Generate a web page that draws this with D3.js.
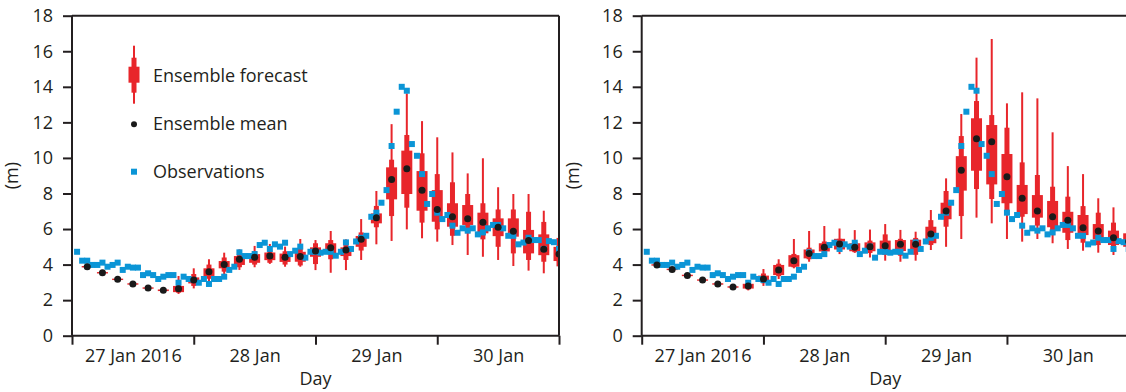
<!DOCTYPE html>
<html>
<head>
<meta charset="utf-8">
<script src="https://cdn.jsdelivr.net/npm/d3@7"></script>
<style>
  body { margin: 0; background: #fff; }
  svg text { font-family: "Open Sans", sans-serif; fill: #231f20; }
</style>
</head>
<body>
<svg id="chart" width="1126" height="392"></svg>
<script>
// time grid: hours after 27 Jan 2016 00:00 UTC
const startTime = Date.UTC(2016, 0, 27);
const endTime = Date.UTC(2016, 0, 31);
const dayLabels = ['27 Jan 2016', '28 Jan', '29 Jan', '30 Jan'];
const yTicks = [0, 2, 4, 6, 8, 10, 12, 14, 16, 18];

// observed wave height, hourly from hour 1
const obsHeight = [
  4.72, 4.22, 4.22, 3.98, 3.98, 4.11, 3.88, 3.98, 4.11, 3.70, 3.88, 3.83,
  3.83, 3.41, 3.51, 3.41, 3.19, 3.32, 3.41, 3.41, 2.98, 3.32, 3.19, 3.13,
  2.98, 3.19, 2.91, 3.19, 3.19, 3.32, 3.70, 3.88, 4.69, 4.48, 4.48, 4.59,
  5.10, 5.23, 4.88, 5.14, 5.01, 5.23, 4.59, 4.78, 5.01, 4.39, 4.72, 4.72,
  4.67, 4.72, 4.72, 4.50, 4.72, 5.25, 4.88, 5.30, 5.51, 5.62, 6.69, 6.92,
  7.48, 8.19, 10.67, 12.60, 14.00, 13.78, 10.78, 10.12, 9.09, 7.41, 7.97, 6.92,
  6.56, 6.79, 6.19, 5.79, 6.04, 5.91, 6.04, 5.70, 5.81, 6.04, 6.23, 6.23,
  6.04, 5.62, 5.62, 5.14, 5.24, 5.51, 5.38, 5.38, 4.88, 5.32, 5.26, 4.88
];

// ensemble forecasts, every 3 hours from hour 3
// left panel
const leftMean = [3.88, 3.54, 3.17, 2.91, 2.68, 2.55, 2.64, 3.13, 3.60, 4.01, 4.30, 4.41, 4.48, 4.41, 4.45, 4.76,
                  4.95, 4.82, 5.42, 6.64, 8.79, 9.39, 8.18, 7.10, 6.69, 6.58, 6.38, 6.10, 5.87, 5.35, 4.86, 4.59];
const leftMin  = [3.80, 3.47, 3.10, 2.84, 2.60, 2.47, 2.35, 2.66, 2.98, 3.47, 3.70, 3.85, 4.04, 3.88, 3.88, 3.69,
                  3.54, 3.69, 4.26, 5.14, 5.33, 5.98, 5.48, 5.29, 5.10, 4.54, 4.44, 4.26, 3.92, 3.66, 3.51, 3.32];
const leftMax  = [3.95, 3.61, 3.24, 2.98, 2.76, 2.63, 3.36, 3.79, 4.30, 4.67, 4.86, 5.05, 5.16, 5.01, 5.44, 5.38,
                  5.89, 5.42, 6.56, 8.14, 11.90, 13.63, 12.07, 11.16, 10.31, 9.13, 9.98, 8.35, 7.97, 7.97, 7.03, 6.40];
const leftP10  = [3.82, 3.49, 3.12, 2.86, 2.62, 2.49, 2.42, 2.80, 3.20, 3.60, 3.85, 4.00, 4.10, 4.00, 3.95, 4.03,
                  4.30, 4.26, 4.79, 6.10, 6.73, 7.20, 6.36, 5.98, 5.62, 5.76, 5.42, 5.00, 4.63, 4.26, 4.16, 3.90];
const leftP90  = [3.94, 3.59, 3.22, 2.96, 2.74, 2.61, 2.85, 3.47, 4.00, 4.40, 4.60, 4.75, 4.80, 4.75, 4.90, 5.20,
                  5.38, 5.20, 5.81, 7.30, 9.90, 11.29, 10.26, 9.09, 8.63, 7.97, 7.45, 7.10, 7.10, 6.97, 6.40, 5.50];
const leftP25  = [3.84, 3.50, 3.13, 2.87, 2.64, 2.51, 2.45, 2.94, 3.36, 3.79, 3.98, 4.10, 4.25, 4.15, 4.16, 4.44,
                  4.63, 4.48, 5.00, 6.32, 7.67, 7.97, 7.03, 6.41, 6.13, 6.23, 5.76, 5.60, 5.57, 4.63, 4.53, 4.20];
const leftP75  = [3.92, 3.58, 3.21, 2.95, 2.72, 2.60, 2.80, 3.28, 3.79, 4.20, 4.48, 4.59, 4.68, 4.62, 4.72, 4.97,
                  5.20, 4.97, 5.61, 6.88, 9.47, 10.41, 9.26, 8.19, 7.45, 7.35, 6.92, 6.60, 6.60, 5.95, 5.70, 5.00];

// right panel
const rightMean = [3.98, 3.73, 3.39, 3.13, 2.91, 2.74, 2.80, 3.19, 3.70, 4.22, 4.63, 4.97, 5.16, 4.97, 5.00, 5.06,
                   5.14, 5.14, 5.72, 7.01, 9.30, 11.08, 10.91, 8.94, 7.73, 7.01, 6.69, 6.49, 6.07, 5.89, 5.51, 5.30];
const rightMin  = [3.90, 3.66, 3.32, 3.06, 2.84, 2.66, 2.55, 2.80, 3.19, 3.79, 4.16, 4.63, 4.59, 4.66, 4.40, 4.22,
                   4.16, 4.22, 4.82, 5.00, 5.44, 6.64, 6.32, 5.44, 5.29, 5.44, 5.20, 4.88, 4.78, 4.67, 4.54, 4.60];
const rightMax  = [4.05, 3.80, 3.46, 3.20, 2.98, 2.82, 3.00, 3.75, 4.30, 5.44, 5.89, 6.17, 6.03, 5.94, 5.97, 6.28,
                   5.95, 5.85, 7.07, 8.85, 12.47, 15.64, 16.69, 13.07, 13.69, 13.35, 11.44, 9.54, 9.09, 7.73, 7.22, 6.60];
const rightP10  = [3.92, 3.68, 3.34, 3.08, 2.86, 2.68, 2.60, 2.95, 3.35, 3.85, 4.30, 4.70, 4.75, 4.70, 4.65, 4.55,
                   4.50, 4.55, 5.10, 6.13, 6.73, 8.25, 7.69, 7.07, 6.69, 6.19, 5.66, 5.38, 5.23, 5.10, 4.82, 4.90];
const rightP90  = [4.04, 3.78, 3.44, 3.18, 2.96, 2.80, 2.95, 3.50, 4.05, 4.60, 4.95, 5.30, 5.45, 5.30, 5.35, 5.70,
                   5.45, 5.50, 6.50, 8.14, 11.23, 13.20, 12.41, 11.70, 9.75, 9.04, 8.38, 7.82, 7.29, 6.92, 6.36, 6.00];
const rightP25  = [3.94, 3.69, 3.35, 3.09, 2.87, 2.70, 2.65, 3.02, 3.41, 3.88, 4.35, 4.74, 4.85, 4.75, 4.75, 4.70,
                   4.76, 4.85, 5.20, 6.55, 8.16, 9.28, 8.51, 7.45, 6.84, 6.64, 6.10, 5.79, 5.66, 5.42, 5.10, 5.00];
const rightP75  = [4.02, 3.77, 3.43, 3.17, 2.95, 2.78, 2.92, 3.38, 3.98, 4.53, 4.85, 5.20, 5.45, 5.20, 5.25, 5.35,
                   5.38, 5.40, 6.13, 7.48, 10.10, 12.23, 11.85, 10.22, 8.48, 7.91, 7.58, 6.97, 6.79, 6.28, 5.91, 5.76];

const red = '#e8262b';
const blue = '#0b95d6';
const dark = '#231f20';

const hourMs = 3600 * 1000;
const obsData = obsHeight.map((v, i) => ({ t: new Date(startTime + (i + 1) * hourMs), v: v }));

function makeForecast(mean, lo, hi, p10, p90, p25, p75) {
  return mean.map((m, i) => ({
    t: new Date(startTime + (i + 1) * 3 * hourMs),
    mean: m, lo: lo[i], hi: hi[i], p10: p10[i], p90: p90[i], p25: p25[i], p75: p75[i]
  }));
}

const panels = [
  { left: 72, labelOffset: -54, data: makeForecast(leftMean, leftMin, leftMax, leftP10, leftP90, leftP25, leftP75), legend: true },
  { left: 641.7, labelOffset: -63, data: makeForecast(rightMean, rightMin, rightMax, rightP10, rightP90, rightP25, rightP75), legend: false }
];

const svg = d3.select('#chart');
const marginTop = 15.7, width = 487, height = 320;

panels.forEach(function(p, pi) {
  const g = svg.append('g').attr('transform', `translate(${p.left}, ${marginTop})`);

  const x = d3.scaleUtc().domain([new Date(startTime), new Date(endTime)]).range([0, width]);
  const y = d3.scaleLinear().domain([0, 18]).range([height, 0]);

  const clipId = 'clip' + pi;
  g.append('clipPath').attr('id', clipId)
    .append('rect').attr('width', width).attr('height', height);

  const plot = g.append('g').attr('clip-path', `url(#${clipId})`);

  const boxes = plot.selectAll('.box')
    .data(p.data)
    .join('g')
    .attr('class', 'box')
    .attr('transform', d => `translate(${x(d.t)}, 0)`);

  boxes.append('rect')
    .attr('x', -1).attr('width', 2)
    .attr('y', d => y(d.hi)).attr('height', d => y(d.lo) - y(d.hi))
    .attr('fill', red);
  boxes.append('rect')
    .attr('x', -2.5).attr('width', 5)
    .attr('y', d => y(d.p90)).attr('height', d => y(d.p10) - y(d.p90))
    .attr('fill', red);
  boxes.append('rect')
    .attr('x', -5.5).attr('width', 11)
    .attr('y', d => y(d.p75)).attr('height', d => y(d.p25) - y(d.p75))
    .attr('fill', red);

  plot.selectAll('.obs')
    .data(obsData)
    .join('rect')
    .attr('class', 'obs')
    .attr('x', d => x(d.t) - 3)
    .attr('y', d => y(d.v) - 3)
    .attr('width', 6).attr('height', 6)
    .attr('fill', blue);

  plot.selectAll('.mean')
    .data(p.data)
    .join('circle')
    .attr('class', 'mean')
    .attr('cx', d => x(d.t))
    .attr('cy', d => y(d.mean))
    .attr('r', 3.5)
    .attr('fill', '#1a1a1a');

  // axes
  const yAxis = g.append('g')
    .call(d3.axisLeft(y).tickValues(yTicks).tickSize(9).tickPadding(10));
  const xAxis = g.append('g')
    .attr('transform', `translate(0, ${height})`)
    .call(d3.axisBottom(x).ticks(d3.utcDay.every(1)).tickFormat('').tickSize(9));
  const labelTimes = dayLabels.map((l, i) => new Date(startTime + (i * 24 + 12) * hourMs));
  const xLabels = g.append('g')
    .attr('transform', `translate(0, ${height})`)
    .call(d3.axisBottom(x).tickValues(labelTimes)
      .tickFormat((d, i) => dayLabels[i]).tickSize(0).tickPadding(14));
  xLabels.select('.domain').remove();

  [yAxis, xAxis, xLabels].forEach(function(a) {
    a.selectAll('text').style('font-size', '18px').attr('fill', dark)
      .style('font-family', '"Open Sans", sans-serif');
    a.selectAll('line').attr('stroke', dark).attr('stroke-width', 2);
    a.selectAll('.domain').attr('stroke', dark).attr('stroke-width', 2);
  });
  yAxis.select('.domain').attr('d', `M0,${height}V0`);
  xAxis.select('.domain').attr('d', `M0,0H${width}`);

  // frame top / right
  g.append('line').attr('x1', 0).attr('x2', width).attr('y1', 0).attr('y2', 0)
    .attr('stroke', dark).attr('stroke-width', 2);
  g.append('line').attr('x1', width).attr('x2', width).attr('y1', 0).attr('y2', height)
    .attr('stroke', dark).attr('stroke-width', 2);

  g.append('text')
    .attr('transform', `translate(${p.labelOffset}, ${height / 2}) rotate(-90)`)
    .attr('text-anchor', 'middle')
    .style('font-size', '18px')
    .text('(m)');

  g.append('text')
    .attr('x', width / 2).attr('y', 369)
    .attr('text-anchor', 'middle')
    .style('font-size', '18px')
    .text('Day');

  if (p.legend) {
    const lg = g.append('g').attr('transform', 'translate(62, 0)');
    lg.append('rect').attr('x', -1).attr('width', 2).attr('y', 30).attr('height', 58).attr('fill', red);
    lg.append('rect').attr('x', -2.5).attr('width', 5).attr('y', 42).attr('height', 35).attr('fill', red);
    lg.append('rect').attr('x', -5.5).attr('width', 11).attr('y', 51).attr('height', 16).attr('fill', red);
    lg.append('circle').attr('cx', 0).attr('cy', 108.5).attr('r', 3).attr('fill', '#1a1a1a');
    lg.append('rect').attr('x', -3).attr('y', 153).attr('width', 6).attr('height', 6).attr('fill', blue);
    const items = ['Ensemble forecast', 'Ensemble mean', 'Observations'];
    lg.selectAll('.ltext')
      .data(items)
      .join('text')
      .attr('class', 'ltext')
      .attr('x', 19)
      .attr('y', (d, i) => 66 + i * 48)
      .style('font-size', '18px')
      .text(d => d);
  }
});
</script>
</body>
</html>
